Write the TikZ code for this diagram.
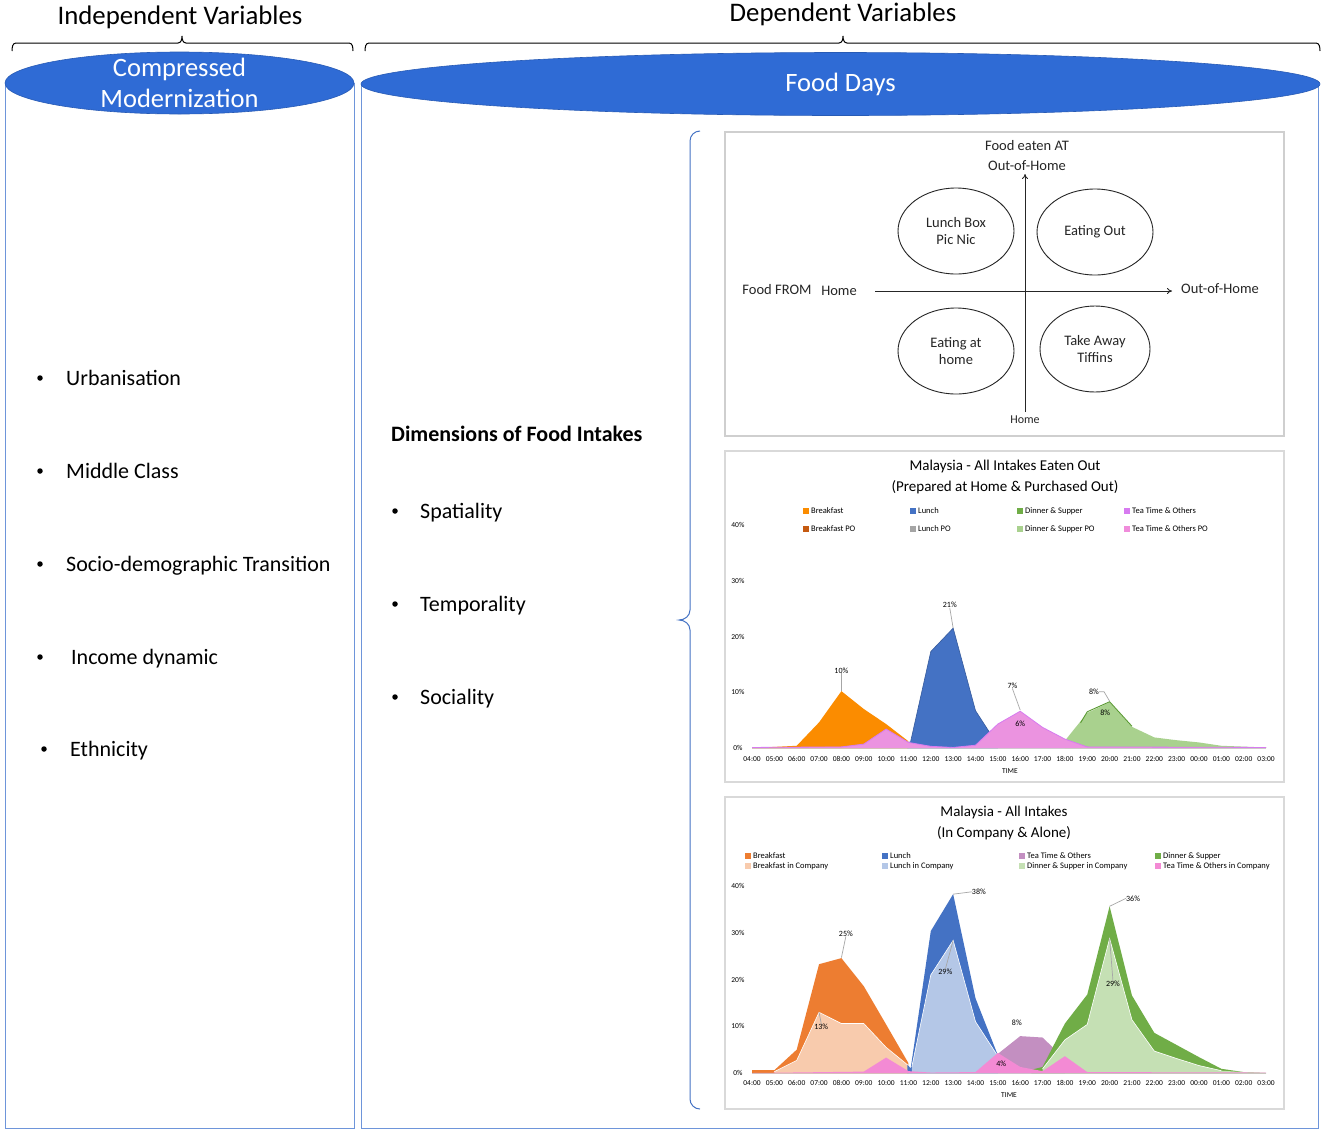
\documentclass[tikz,border=0pt]{standalone}
\usepackage{fontspec}
\setmainfont{Carlito}
\usetikzlibrary{shapes.geometric,arrows.meta}
\definecolor{hdrblue}{HTML}{2F6BD5}
\definecolor{colline}{HTML}{6E95DA}
\definecolor{boxgray}{HTML}{CFCFCF}
\definecolor{qtext}{HTML}{262626}
\definecolor{leadgray}{HTML}{A6A6A6}
\definecolor{cBrk}{HTML}{FB8C00}
\definecolor{cBrkPO}{HTML}{C55A11}
\definecolor{cLun}{HTML}{4472C4}
\definecolor{cLunPO}{HTML}{A5A5A5}
\definecolor{cDin}{HTML}{70AD47}
\definecolor{cDinLine}{HTML}{5A9A32}
\definecolor{cDinPO}{HTML}{A9D18E}
\definecolor{cTea}{HTML}{D77BF0}
\definecolor{cTeaFill}{HTML}{EB93E0}
\definecolor{cTeaPO}{HTML}{F08CDB}
\definecolor{dBrk}{HTML}{ED7D31}
\definecolor{dBrkC}{HTML}{F8CBAD}
\definecolor{dLun}{HTML}{4472C4}
\definecolor{dLunC}{HTML}{B4C7E7}
\definecolor{dTea}{HTML}{C38FC1}
\definecolor{dDin}{HTML}{70AD47}
\definecolor{dDinC}{HTML}{C5E0B4}
\definecolor{dTeaC}{HTML}{F38AD4}
\newcommand\fsz[2]{\fontsize{#1}{#2}\selectfont}
\begin{document}
\begin{tikzpicture}[x=1pt,y=-1pt,
  hdrtxt/.style={font=\fsz{26.8}{31}, inner sep=0},
  bracestyle/.style={line width=1pt, black},
  colrect/.style={draw=colline, line width=1pt},
  hell/.style={ellipse, fill=hdrblue, draw=hdrblue!85!black, line width=0.6pt, inner sep=0},
  htxt/.style={font=\fsz{26.5}{31}, text=white, align=center, inner sep=0},
  dotb/.style={circle, fill=black, inner sep=0, minimum size=5.5pt},
  itm/.style={font=\fsz{22}{26}, anchor=base west, inner sep=0},
  qbox/.style={draw=boxgray, line width=1.5pt},
  qtx/.style={font=\fsz{14.5}{17}, text=qtext, align=center, inner sep=0},
  qell/.style={ellipse, draw=qtext, line width=0.9pt, inner sep=0, minimum width=116pt, minimum height=86pt},
  qax/.style={draw=qtext, line width=0.9pt, -{To[length=5pt,width=6pt]}},
  ttl/.style={font=\fsz{15}{18}, inner sep=0},
  lsq/.style={inner sep=0, minimum size=5.5pt},
  ltx/.style={font=\fsz{8.5}{10}, anchor=west, inner sep=0},
  tick/.style={font=\fsz{7.5}{9}, inner sep=0},
  plab/.style={font=\fsz{8}{10}, inner sep=0},
  lead/.style={draw=leadgray, line width=0.7pt},
  bluebrace/.style={draw=cLun, line width=1pt}
]
\useasboundingbox (0,0) rectangle (1325,1133);
\fill[white] (0,0) rectangle (1325,1133);

% ---------- headers and braces ----------
\node[hdrtxt] (indep) at (180,17) {Independent Variables};
\node[hdrtxt] (dep) at (843,14) {Dependent Variables};
\draw[bracestyle] (12,51) to[out=90,in=180] (16,43) -- (178,43) to[out=0,in=-90] (182,36)
  to[out=-90,in=180] (186,43) -- (349,43) to[out=0,in=90] (353,51);
\draw[bracestyle] (365,51) to[out=90,in=180] (369,43) -- (839,43) to[out=0,in=-90] (843,36)
  to[out=-90,in=180] (847,43) -- (1316,43) to[out=0,in=90] (1320,51);

% ---------- columns ----------
\draw[colrect] (5,83) -- (5,1128) -- (354,1128) -- (354,83);
\draw[colrect] (361,84) -- (361,1128) -- (1318,1128) -- (1318,84);
\node[hell, minimum width=349pt, minimum height=62pt] (ell1) at (179.5,83) {};
\node[htxt] (cm) at (179.5,83) {Compressed\\Modernization};
\node[hell, minimum width=959pt, minimum height=63pt] (ell2) at (840.5,84) {};
\node[htxt] (fd) at (840.5,84) {Food Days};

% ---------- independent variables ----------
\node[dotb] (b1) at (40,378) {};
\node[itm] (i1) at (66,385) {Urbanisation};
\node[dotb] (b2) at (40,471) {};
\node[itm] (i2) at (66,478) {Middle Class};
\node[dotb] (b3) at (40,564) {};
\node[itm] (i3) at (66,571) {Socio-demographic Transition};
\node[dotb] (b4) at (40,657) {};
\node[itm] (i4) at (71,664) {Income dynamic};
\node[dotb] (b5) at (44,749) {};
\node[itm] (i5) at (70,756) {Ethnicity};

% ---------- dependent variables ----------
\node[itm, font=\bfseries\fsz{22}{26}] (dim) at (391,441) {Dimensions of Food Intakes};
\node[dotb] (d1) at (395,511) {};
\node[itm] (s1) at (420,518) {Spatiality};
\node[dotb] (d2) at (395,604) {};
\node[itm] (s2) at (420,611) {Temporality};
\node[dotb] (d3) at (395,697) {};
\node[itm] (s3) at (420,704) {Sociality};

\draw[bluebrace] (700,131) to[out=180,in=90] (690,141) -- (690,610) to[out=-90,in=0] (679,620)
  to[out=0,in=90] (690,630) -- (690,1099) to[out=-90,in=180] (700,1109);

% ---------- quadrant panel ----------
\draw[qbox] (725,132) rectangle (1284,436);
\node[qtx] (qat) at (1027,146) {Food eaten AT};
\node[qtx] (qoutv) at (1027,166) {Out-of-Home};
\node[qtx] (qfrom) at (777,290) {Food FROM};
\node[qtx] (qhome) at (839,291) {Home};
\node[qtx] (qouth) at (1220,289) {Out-of-Home};
\node[qtx, font=\fsz{12}{14}] (qhomev) at (1025,420) {Home};
\coordinate (hx0) at (875,291);
\coordinate (hx1) at (1172,291);
\coordinate (vy0) at (1025,412);
\coordinate (vy1) at (1025,174);
\draw[qax] (hx0) -- (hx1);
\draw[qax] (vy0) -- (vy1);
\node[qell, qtx] (lb) at (956,231) {Lunch Box\\Pic Nic};
\node[qell, qtx] (eo) at (1095,232) {Eating Out};
\node[qell, qtx] (eh) at (956,351) {Eating at\\home};
\node[qell, qtx, minimum width=110pt] (ta) at (1095,349) {Take Away\\Tiffins};

% ---------- chart 1 ----------
\draw[qbox, draw=boxgray!80] (725,451) rectangle (1284,782);
\node[ttl] (t1a) at (1005,466) {Malaysia - All Intakes Eaten Out};
\node[ttl] (t1b) at (1005,487) {(Prepared at Home \& Purchased Out)};
\node[lsq, fill=cBrk] (q11) at (806,511) {};   \node[ltx] (l11) at (811,511) {Breakfast};
\node[lsq, fill=cLun] (q12) at (913,511) {};   \node[ltx] (l12) at (918,511) {Lunch};
\node[lsq, fill=cDin] (q13) at (1020,511) {};  \node[ltx] (l13) at (1025,511) {Dinner \& Supper};
\node[lsq, fill=cTea] (q14) at (1127,511) {};  \node[ltx] (l14) at (1132,511) {Tea Time \& Others};
\node[lsq, fill=cBrkPO] (q15) at (806,529) {}; \node[ltx] (l15) at (811,529) {Breakfast PO};
\node[lsq, fill=cLunPO] (q16) at (913,529) {}; \node[ltx] (l16) at (918,529) {Lunch PO};
\node[lsq, fill=cDinPO] (q17) at (1020,529) {};\node[ltx] (l17) at (1025,529) {Dinner \& Supper PO};
\node[lsq, fill=cTeaPO] (q18) at (1127,529) {};\node[ltx] (l18) at (1132,529) {Tea Time \& Others PO};
\begin{scope}[shift={(752,748)}, x=22.35pt, y=5.575pt]
  \draw[draw=boxgray, line width=0.6pt] (0,0) -- (23,0);
  \fill[cBrk] (0,0) -- (2,0.4) -- (3,4.6) -- (4,10.2) -- (5,7) -- (6,4.3) -- (7,1.2) -- (7,0) -- cycle;
  \fill[cLun] (6.95,0) -- (6.95,1) -- (7.1,1.2) -- (8,17.3) -- (9,21.5) -- (10,6.7) -- (11,0.5) -- (11,0) -- cycle;
  \draw[cLun!80!black, line width=0.6pt] (7.1,1.2) -- (8,17.3) -- (9,21.5) -- (10,6.7) -- (11,0.5);
  \fill[cDinPO] (14,0) -- (14,1.3) -- (15,6.3) -- (16,8.2) -- (17,3.8) -- (18,1.9) -- (19,1.4) -- (20,1) -- (21,0.4) -- (22,0.25) -- (23,0.1) -- (23,0) -- cycle;
  \draw[cDinLine, line width=0.9pt] (14.7,4.5) -- (15,6.5) -- (16,8.3) -- (17,3.9);
  \fill[cTeaFill] (0,0) -- (0,0.1) -- (4,0.2) -- (5,0.7) -- (6,3.4) -- (7,1) -- (8,0.3) -- (9,0.1) -- (10,0.5) -- (11,4.3) -- (12,6.6) -- (13,3.7) -- (14,1.6) -- (15,0.2) -- (23,0.1) -- (23,0) -- cycle;
  \draw[cTea, line width=0.8pt] (0,0.1) -- (4,0.2) -- (5,0.7) -- (6,3.4) -- (7,1) -- (8,0.3) -- (9,0.1) -- (10,0.5) -- (11,4.3) -- (12,6.6) -- (13,3.7) -- (14,1.6) -- (15,0.2) -- (23,0.1);
  % data labels
  \node[plab] (p1a) at (4,13.9) {10\%};
  \coordinate (k1a) at (4,10.2);
  \draw[lead] (p1a.south) -- (k1a);
  \node[plab] (p1b) at (8.85,25.6) {21\%};
  \coordinate (k1b) at (9,21.5);
  \draw[lead] (p1b.south) -- (k1b);
  \node[plab] (p1c) at (11.65,11.2) {7\%};
  \coordinate (k1c) at (12,6.8);
  \draw[lead] (p1c.south) -- (k1c);
  \node[plab] (p1d) at (12,4.3) {6\%};
  \node[plab] (p1e) at (15.3,10.1) {8\%};
  \coordinate (k1e) at (16,8.4);
  \draw[lead] (p1e.east) -- (15.75,10.1) -- (k1e);
  \node[plab] (p1f) at (15.8,6.3) {8\%};
  % axes labels
  \foreach \lab [count=\i from 0] in {04:00,05:00,06:00,07:00,08:00,09:00,10:00,11:00,12:00,13:00,14:00,15:00,16:00,17:00,18:00,19:00,20:00,21:00,22:00,23:00,00:00,01:00,02:00,03:00}
    \node[tick] (xa\i) at (\i,-1.97) {\lab};
  \foreach \p in {0,10,20,30,40}
    \node[tick] (ya\p) at (-0.63,\p) {\p\%};
  \node[tick] (time1) at (11.54,-4.1) {TIME};
\end{scope}

% ---------- chart 2 ----------
\draw[qbox, draw=boxgray!80] (725,797) rectangle (1284,1109);
\node[ttl] (t2a) at (1004,812) {Malaysia - All Intakes};
\node[ttl] (t2b) at (1004,833) {(In Company \& Alone)};
\node[lsq, fill=dBrk] (q21) at (748,856) {};   \node[ltx] (l21) at (753,856) {Breakfast};
\node[lsq, fill=dLun] (q22) at (885,856) {};   \node[ltx] (l22) at (890,856) {Lunch};
\node[lsq, fill=dTea] (q23) at (1022,856) {};  \node[ltx] (l23) at (1027,856) {Tea Time \& Others};
\node[lsq, fill=dDin] (q24) at (1158,856) {};  \node[ltx] (l24) at (1163,856) {Dinner \& Supper};
\node[lsq, fill=dBrkC] (q25) at (748,866) {};  \node[ltx] (l25) at (753,866) {Breakfast in Company};
\node[lsq, fill=dLunC] (q26) at (885,866) {};  \node[ltx] (l26) at (890,866) {Lunch in Company};
\node[lsq, fill=dDinC] (q27) at (1022,866) {}; \node[ltx] (l27) at (1027,866) {Dinner \& Supper in Company};
\node[lsq, fill=dTeaC] (q28) at (1158,866) {}; \node[ltx] (l28) at (1163,866) {Tea Time \& Others in Company};
\begin{scope}[shift={(752,1073)}, x=22.35pt, y=4.67pt]
  \draw[draw=boxgray, line width=0.6pt] (0,0) -- (23,0);
  \fill[dBrk] (0,0) -- (0,0.6) -- (1,0.6) -- (2,5) -- (3,23.3) -- (4,24.6) -- (5,18.6) -- (6,10.4) -- (7,2.1) -- (7,0) -- cycle;
  \fill[dBrkC] (1,0) -- (1,0.3) -- (2,2.7) -- (3,13) -- (4,10.6) -- (5,10.6) -- (6,5.5) -- (7,1.6) -- (7,0) -- cycle;
  \draw[white, line width=0.6pt] (1,0.3) -- (2,2.7) -- (3,13) -- (4,10.6) -- (5,10.6) -- (6,5.5) -- (7,1.6);
  \fill[dLun] (6.95,0) -- (6.95,1.8) -- (7.1,1) -- (8,30.4) -- (9,38.3) -- (10,16) -- (11,3.8) -- (11,0) -- cycle;
  \fill[dLunC] (7.15,0) -- (7.15,1.3) -- (8,21) -- (9,28.4) -- (10,11) -- (11,3.6) -- (11,0) -- cycle;
  \draw[white, line width=0.6pt] (7.15,1.3) -- (8,21) -- (9,28.4) -- (10,11) -- (11,3.6);
  \fill[dTea] (11,0) -- (11,4.1) -- (12,7.9) -- (13,7.6) -- (14,3) -- (14,0) -- cycle;
  \fill[dDin] (12.5,0) -- (12.5,0.7) -- (13,1.3) -- (14,10.6) -- (15,16.8) -- (16,35.7) -- (17,16.6) -- (18,8.6) -- (19,6) -- (20,3.4) -- (21,0.9) -- (22,0.2) -- (23,0) -- cycle;
  \fill[dDinC] (13,0) -- (13,0.9) -- (14,7.1) -- (15,10.4) -- (16,28.8) -- (17,11.4) -- (18,4.7) -- (19,3.1) -- (20,1.6) -- (21,0.5) -- (22,0.2) -- (23,0) -- cycle;
  \draw[white, line width=0.6pt] (13,0.9) -- (14,7.1) -- (15,10.4) -- (16,28.8) -- (17,11.4) -- (18,4.7) -- (19,3.1) -- (20,1.6) -- (21,0.5);
  \fill[dTeaC] (0,0) -- (5,0.3) -- (6,3.3) -- (7,0.4) -- (8,0.1) -- (10,0.2) -- (11,4.3) -- (12,1.3) -- (13,0.4) -- (14,3.6) -- (15,0.2) -- (23,0.1) -- (23,0) -- cycle;
  % data labels
  \node[plab] (p2a) at (4.2,29.9) {25\%};
  \coordinate (k2a) at (4,24.7);
  \draw[lead] (p2a.south) -- (k2a);
  \node[plab] (p2b) at (3.1,9.9) {13\%};
  \coordinate (k2b) at (3,13);
  \draw[lead] (p2b.north) -- (k2b);
  \node[plab] (p2c) at (10.15,38.8) {38\%};
  \coordinate (k2c) at (9,38.3);
  \draw[lead] (p2c.west) -- (k2c);
  \node[plab] (p2d) at (8.65,21.6) {29\%};
  \coordinate (k2d) at (9,28.4);
  \draw[lead] (p2d.north) -- (k2d);
  \node[plab] (p2e) at (11.85,10.7) {8\%};
  \node[plab] (p2f) at (11.15,2.0) {4\%};
  \node[plab] (p2g) at (17.05,37.4) {36\%};
  \coordinate (k2g) at (16,35.7);
  \draw[lead] (p2g.west) -- (k2g);
  \node[plab] (p2h) at (16.15,19.1) {29\%};
  \coordinate (k2h) at (16,28.8);
  \draw[lead] (p2h.north) -- (k2h);
  % axes labels
  \foreach \lab [count=\i from 0] in {04:00,05:00,06:00,07:00,08:00,09:00,10:00,11:00,12:00,13:00,14:00,15:00,16:00,17:00,18:00,19:00,20:00,21:00,22:00,23:00,00:00,01:00,02:00,03:00}
    \node[tick] (xb\i) at (\i,-2.14) {\lab};
  \foreach \p in {0,10,20,30,40}
    \node[tick] (yb\p) at (-0.63,\p) {\p\%};
  \node[tick] (time2) at (11.5,-4.7) {TIME};
\end{scope}
\end{tikzpicture}
\end{document}
